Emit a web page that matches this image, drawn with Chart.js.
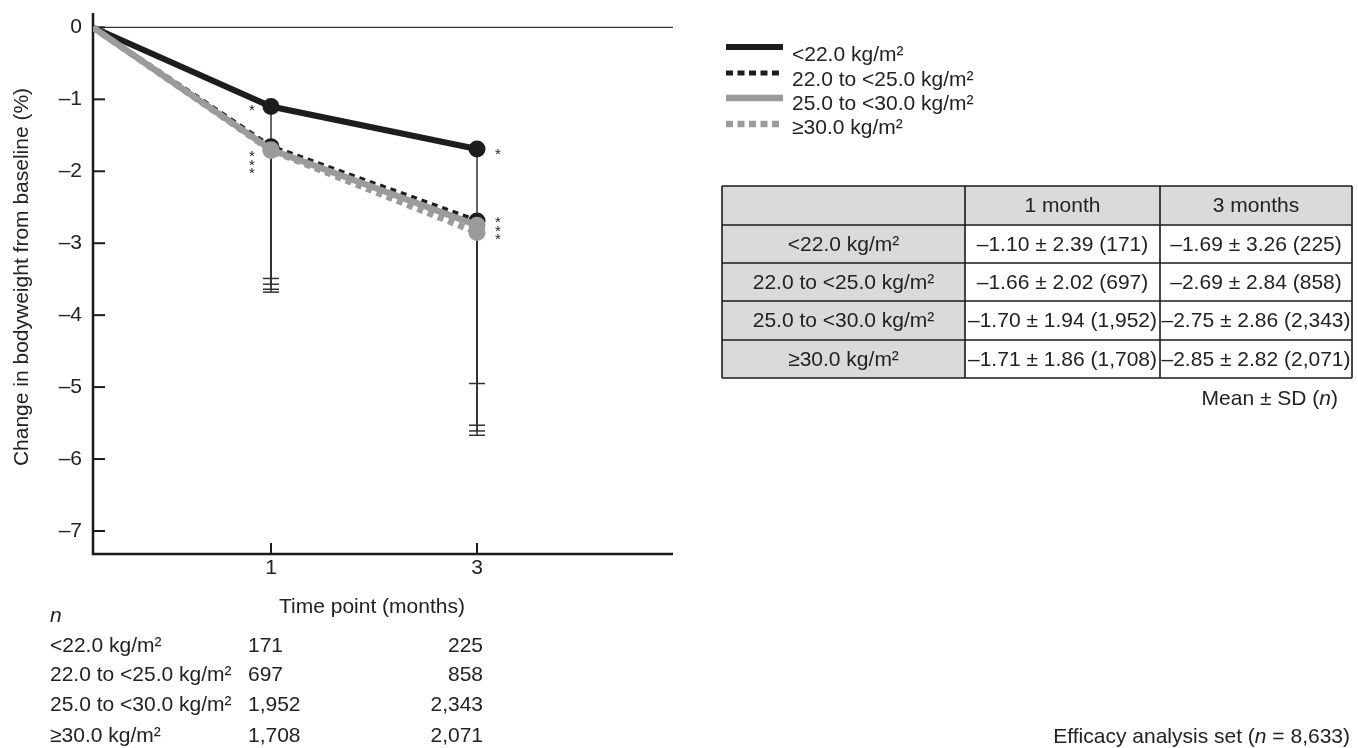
<!DOCTYPE html>
<html>
<head>
<meta charset="utf-8">
<script src="https://cdn.jsdelivr.net/npm/chart.js@4.4.1/dist/chart.umd.min.js"></script>
<style>
html,body{margin:0;padding:0;background:#fff;}
#wrap{width:1358px;height:748px;position:relative;}
</style>
</head>
<body>
<div id="wrap"><canvas id="c" width="1358" height="748"></canvas></div>
<script>
// ---------------- data ----------------
const groups = ['<22.0 kg/m²', '22.0 to <25.0 kg/m²', '25.0 to <30.0 kg/m²', '≥30.0 kg/m²'];
const timePoints = [0, 1, 3];            // months (0 = baseline)
const xTickLabels = ['1', '3'];
const yTickValues = [0, -1, -2, -3, -4, -5, -6, -7];
const mean1m = [-1.10, -1.66, -1.70, -1.71];
const sd1m   = [2.39, 2.02, 1.94, 1.86];
const n1m    = [171, 697, 1952, 1708];
const mean3m = [-1.69, -2.69, -2.75, -2.85];
const sd3m   = [3.26, 2.84, 2.86, 2.82];
const n3m    = [225, 858, 2343, 2071];
const sig1m  = ['*', '*', '*', '*'];
const sig3m  = ['*', '*', '*', '*'];
const totalN = 8633;
const tableHeaders = ['1 month', '3 months'];

// ---------------- styles ----------------
const FONT = "'Liberation Sans', Arial, Helvetica, sans-serif";
const INK = '#222222';
const seriesStyle = [
  { color: '#1d1d1d', dash: [],     width: 6 },
  { color: '#1d1d1d', dash: [6, 5], width: 5 },
  { color: '#9b9b9b', dash: [],     width: 6.5 },
  { color: '#9b9b9b', dash: [6, 5], width: 6.5 },
];
const drawOrder = [3, 2, 1, 0]; // larger = drawn lower

// piecewise x scale: baseline, 1 month and 3 months are not evenly spaced
const xAnchorsVal = [0, 1, 3, 4.9];
const xAnchorsDec = [0, 0.3069, 0.6621, 1];
function toDec(v) {
  for (let i = 0; i < xAnchorsVal.length - 1; i++) {
    if (v <= xAnchorsVal[i + 1] || i === xAnchorsVal.length - 2) {
      const t = (v - xAnchorsVal[i]) / (xAnchorsVal[i + 1] - xAnchorsVal[i]);
      return xAnchorsDec[i] + t * (xAnchorsDec[i + 1] - xAnchorsDec[i]);
    }
  }
  return 0;
}
function fromDec(d) {
  for (let i = 0; i < xAnchorsDec.length - 1; i++) {
    if (d <= xAnchorsDec[i + 1] || i === xAnchorsDec.length - 2) {
      const t = (d - xAnchorsDec[i]) / (xAnchorsDec[i + 1] - xAnchorsDec[i]);
      return xAnchorsVal[i] + t * (xAnchorsVal[i + 1] - xAnchorsVal[i]);
    }
  }
  return 0;
}
class PiecewiseScale extends Chart.LinearScale {
  getPixelForValue(value) { return this.getPixelForDecimal(toDec(value)); }
  getValueForPixel(pixel) { return fromDec(this.getDecimalForPixel(pixel)); }
}
PiecewiseScale.id = 'piecewise';
PiecewiseScale.defaults = Chart.LinearScale.defaults;
Chart.register(PiecewiseScale);

// ---------------- helpers ----------------
const fmtNum = v => (v < 0 ? '–' : '') + Math.abs(v).toFixed(2);
const fmtN = v => v.toLocaleString('en-US');

function drawRich(ctx, segs, x, y, align, size) {
  let w = 0;
  segs.forEach(s => { ctx.font = (s.i ? 'italic ' : '') + size + 'px ' + FONT; s.w = ctx.measureText(s.t).width; w += s.w; });
  let cx = align === 'right' ? x - w : align === 'center' ? x - w / 2 : x;
  ctx.textAlign = 'left';
  segs.forEach(s => { ctx.font = (s.i ? 'italic ' : '') + size + 'px ' + FONT; ctx.fillText(s.t, cx, y); cx += s.w; });
}

const datasets = groups.map((g, i) => ({
  label: g,
  data: [
    { x: timePoints[0], y: 0 },
    { x: timePoints[1], y: mean1m[i] },
    { x: timePoints[2], y: mean3m[i] },
  ],
  borderColor: seriesStyle[i].color,
  backgroundColor: seriesStyle[i].color,
  borderWidth: seriesStyle[i].width,
  borderDash: seriesStyle[i].dash,
  borderCapStyle: 'butt',
  pointRadius: [0, 8.5, 8.5],
  pointBorderWidth: 0,
  pointBackgroundColor: seriesStyle[i].color,
  tension: 0,
  order: drawOrder[i],
}));

const overlay = {
  id: 'overlay',
  beforeDatasetsDraw(chart) {
    const ctx = chart.ctx, xs = chart.scales.x, ys = chart.scales.y, a = chart.chartArea;
    ctx.save();
    // zero line
    ctx.strokeStyle = '#333'; ctx.lineWidth = 1.3;
    ctx.beginPath(); ctx.moveTo(a.left, ys.getPixelForValue(0)); ctx.lineTo(a.right, ys.getPixelForValue(0)); ctx.stroke();
    // axes
    ctx.strokeStyle = '#1a1a1a'; ctx.lineWidth = 2.5;
    ctx.beginPath(); ctx.moveTo(a.left, a.top); ctx.lineTo(a.left, a.bottom); ctx.lineTo(a.right, a.bottom); ctx.stroke();
    // inward ticks
    ctx.lineWidth = 2;
    yTickValues.forEach(v => { const y = ys.getPixelForValue(v); ctx.beginPath(); ctx.moveTo(a.left, y); ctx.lineTo(a.left + 12, y); ctx.stroke(); });
    timePoints.slice(1).forEach(t => { const x = xs.getPixelForValue(t); ctx.beginPath(); ctx.moveTo(x, a.bottom); ctx.lineTo(x, a.bottom - 11); ctx.stroke(); });
    // error bars (mean - SD)
    ctx.strokeStyle = '#333'; ctx.lineWidth = 1.5;
    groups.forEach((g, i) => {
      [[timePoints[1], mean1m[i], sd1m[i]], [timePoints[2], mean3m[i], sd3m[i]]].forEach(([t, m, sd]) => {
        const x = xs.getPixelForValue(t), y0 = ys.getPixelForValue(m), y1 = ys.getPixelForValue(m - sd);
        ctx.beginPath(); ctx.moveTo(x, y0); ctx.lineTo(x, y1); ctx.stroke();
        ctx.beginPath(); ctx.moveTo(x - 8, y1); ctx.lineTo(x + 8, y1); ctx.stroke();
      });
    });
    ctx.restore();
  },
  afterDatasetsDraw(chart) {
    const ctx = chart.ctx, xs = chart.scales.x, ys = chart.scales.y;
    ctx.save();
    ctx.fillStyle = INK;
    ctx.textBaseline = 'middle';
    // significance markers
    ctx.font = '15px ' + FONT; ctx.textAlign = 'center';
    const starAt = (x, yc, s) => ctx.fillText(s, x, yc + 4);
    // 1 month
    {
      const x = xs.getPixelForValue(timePoints[1]) - 19;
      starAt(x, ys.getPixelForValue(mean1m[0]), sig1m[0]);
      const avg = (mean1m[1] + mean1m[2] + mean1m[3]) / 3;
      const yc = ys.getPixelForValue(avg) + 4;
      for (let k = 1; k < 4; k++) starAt(x, yc + (k - 1) * 8.5, sig1m[k]);
    }
    // 3 months
    {
      const x = xs.getPixelForValue(timePoints[2]) + 21;
      starAt(x, ys.getPixelForValue(mean3m[0]) + 2, sig3m[0]);
      const avg = (mean3m[1] + mean3m[2] + mean3m[3]) / 3;
      const yc = ys.getPixelForValue(avg) - 7;
      for (let k = 1; k < 4; k++) starAt(x, yc + (k - 1) * 8.5, sig3m[k]);
    }

    // y title
    ctx.save();
    ctx.translate(22, 277); ctx.rotate(-Math.PI / 2);
    ctx.font = '21px ' + FONT; ctx.textAlign = 'center';
    ctx.fillText('Change in bodyweight from baseline (%)', 0, 0);
    ctx.restore();
    // x title
    ctx.font = '21px ' + FONT; ctx.textAlign = 'center';
    ctx.fillText('Time point (months)', 372, 607);

    // legend
    const legLineY = [47, 73, 98, 124];
    const legTextY = [55, 80, 104, 128];
    groups.forEach((g, i) => {
      const st = seriesStyle[i];
      ctx.strokeStyle = st.color; ctx.lineWidth = st.width; ctx.setLineDash(st.dash.length ? [7, 4.5] : []);
      ctx.lineCap = 'butt';
      ctx.beginPath(); ctx.moveTo(726, legLineY[i]); ctx.lineTo(783, legLineY[i]); ctx.stroke();
      ctx.setLineDash([]);
      ctx.fillStyle = INK; ctx.font = '21px ' + FONT; ctx.textAlign = 'left';
      ctx.fillText(g, 792, legTextY[i]);
    });

    // summary table
    const colX = [722, 965, 1160, 1352];
    const rowY = [186, 225, 263, 301, 340, 378];
    ctx.fillStyle = '#dadada';
    ctx.fillRect(colX[0], rowY[0], colX[3] - colX[0], rowY[1] - rowY[0]);
    ctx.fillRect(colX[0], rowY[0], colX[1] - colX[0], rowY[5] - rowY[0]);
    ctx.strokeStyle = '#1a1a1a'; ctx.lineWidth = 1.6;
    rowY.forEach(y => { ctx.beginPath(); ctx.moveTo(colX[0], y); ctx.lineTo(colX[3], y); ctx.stroke(); });
    colX.forEach(x => { ctx.beginPath(); ctx.moveTo(x, rowY[0]); ctx.lineTo(x, rowY[5]); ctx.stroke(); });
    ctx.fillStyle = INK; ctx.font = '21px ' + FONT; ctx.textAlign = 'center';
    const cx = k => (colX[k] + colX[k + 1]) / 2, cy = r => (rowY[r] + rowY[r + 1]) / 2 + 1;
    ctx.fillText(tableHeaders[0], cx(1), cy(0));
    ctx.fillText(tableHeaders[1], cx(2), cy(0));
    groups.forEach((g, i) => {
      ctx.fillText(g, cx(0), cy(i + 1));
      ctx.fillText(fmtNum(mean1m[i]) + ' ± ' + sd1m[i].toFixed(2) + ' (' + fmtN(n1m[i]) + ')', cx(1), cy(i + 1));
      ctx.fillText(fmtNum(mean3m[i]) + ' ± ' + sd3m[i].toFixed(2) + ' (' + fmtN(n3m[i]) + ')', cx(2), cy(i + 1));
    });
    drawRich(ctx, [{ t: 'Mean ± SD (' }, { t: 'n', i: true }, { t: ')' }], 1338, 399, 'right', 21);

    // n table under the x axis
    drawRich(ctx, [{ t: 'n', i: true }], 50, 616, 'left', 21);
    const nRowY = [646, 675, 705, 736];
    groups.forEach((g, i) => {
      ctx.font = '21px ' + FONT;
      ctx.textAlign = 'left'; ctx.fillText(g, 50, nRowY[i]);
      ctx.fillText(fmtN(n1m[i]), 248, nRowY[i]);
      ctx.textAlign = 'right'; ctx.fillText(fmtN(n3m[i]), 483, nRowY[i]);
    });

    // footnote
    drawRich(ctx, [{ t: 'Efficacy analysis set (' }, { t: 'n', i: true }, { t: ' = ' + fmtN(totalN) + ')' }], 1350, 737, 'right', 21);
    ctx.restore();
  }
};

new Chart(document.getElementById('c'), {
  type: 'line',
  data: { datasets },
  options: {
    responsive: false,
    animation: false,
    devicePixelRatio: 1,
    layout: { padding: { left: 0, top: 13, right: 685, bottom: 0 } },
    plugins: { legend: { display: false }, tooltip: { enabled: false } },
    scales: {
      x: {
        type: 'piecewise', position: 'bottom', min: 0, max: 4.9,
        grid: { display: false, drawTicks: false }, border: { display: false },
        afterBuildTicks: s => { s.ticks = timePoints.slice(1).map(v => ({ value: v })); },
        afterFit: s => { s.height = 194; s.paddingLeft = 0; s.paddingRight = 0; },
        ticks: {
          autoSkip: false, maxRotation: 0, padding: 2, color: INK,
          font: { family: FONT, size: 21 },
          callback: (v) => xTickLabels[timePoints.slice(1).indexOf(v)]
        }
      },
      y: {
        type: 'linear', min: -7.32, max: 0.2,
        grid: { display: false, drawTicks: false }, border: { display: false },
        afterBuildTicks: s => { s.ticks = yTickValues.map(v => ({ value: v })); },
        afterFit: s => { s.width = 93; s.paddingTop = 0; s.paddingBottom = 0; },
        ticks: {
          autoSkip: false, padding: 11, color: INK,
          font: { family: FONT, size: 21 },
          callback: v => (v === 0 ? '0' : '–' + Math.abs(v))
        }
      }
    }
  },
  plugins: [overlay]
});
</script>
</body>
</html>
